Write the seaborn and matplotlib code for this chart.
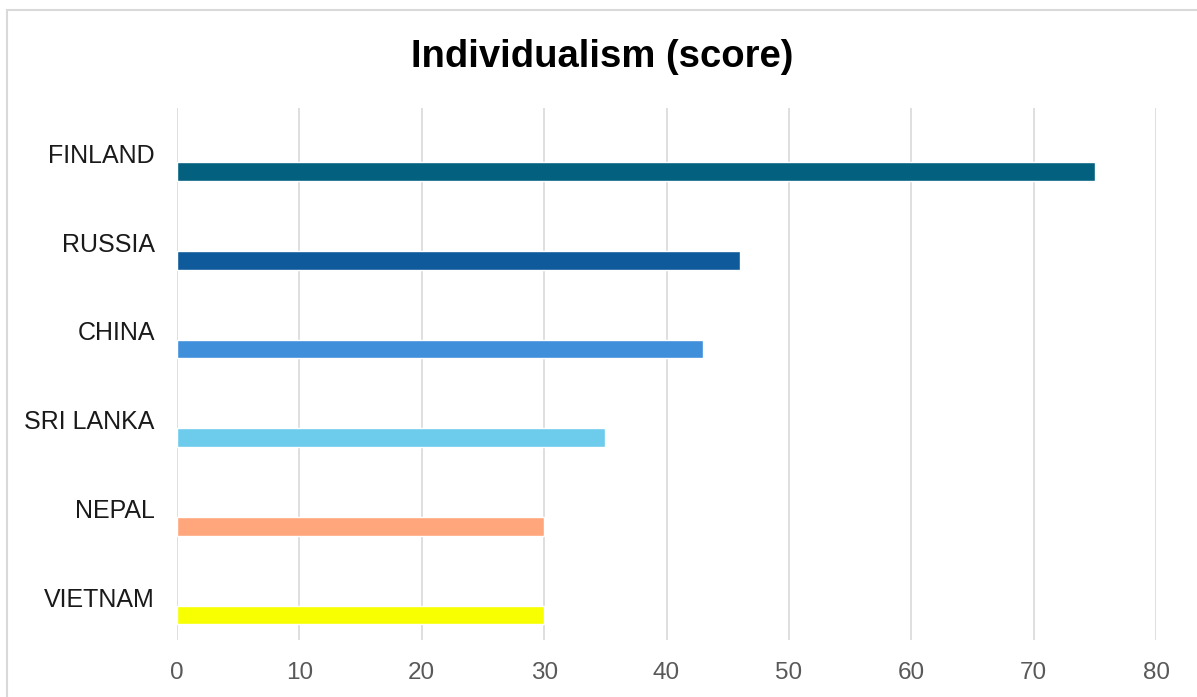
import matplotlib
matplotlib.use("Agg")
import matplotlib.pyplot as plt
import matplotlib.transforms as mtransforms
from matplotlib.patches import Rectangle
import seaborn as sns

countries = ["FINLAND", "RUSSIA", "CHINA", "SRI LANKA", "NEPAL", "VIETNAM"]
scores = [75, 46, 43, 35, 30, 30]
bar_colors = ["#03607f", "#0e5a9a", "#3f8fdb", "#6dcbec", "#ffa67c", "#f7ff00"]
x_ticks = [0, 10, 20, 30, 40, 50, 60, 70, 80]

sns.set_theme(style="white")
plt.rcParams["font.family"] = ["Liberation Sans", "DejaVu Sans"]

fig = plt.figure(figsize=(11.97, 6.97), dpi=100)
ax = fig.add_axes([0.1479, 0.0818, 0.8179, 0.7633])

sns.barplot(x=scores, y=countries, hue=countries, palette=bar_colors,
            width=0.21, saturation=1, legend=False, orient="h", ax=ax)

ax.set_xlim(0, 80)
ax.set_ylim(5.28, -0.716)
ax.set_xticks(x_ticks)
ax.set_xlabel("")
ax.set_ylabel("")
ax.grid(axis="x", color="#d9d9d9", linewidth=1.2)
ax.grid(axis="y", visible=False)
ax.set_axisbelow(True)
for s in ax.spines.values():
    s.set_visible(False)

ax.tick_params(axis="x", length=0, pad=16, labelsize=17.5, labelcolor="#595959")
ax.tick_params(axis="y", length=0, pad=16, labelsize=18, labelcolor="#1a1a1a")

# labels sit above the bars, like the original spreadsheet chart
offset = mtransforms.ScaledTranslation(0, 13 / 72, fig.dpi_scale_trans)
for lbl in ax.get_yticklabels():
    lbl.set_transform(lbl.get_transform() + offset)

fig.suptitle("Individualism (score)", x=0.503, y=0.918, va="center",
             fontsize=27.5, fontweight="bold", color="#000000")

fig.add_artist(Rectangle((7 / 1197, -0.05), 1.1, 1 - 10 / 697 + 0.05,
                         transform=fig.transFigure, fill=False,
                         edgecolor="#d9d9d9", linewidth=1.5))

plt.savefig("out.png", dpi=100)
plt.close()
